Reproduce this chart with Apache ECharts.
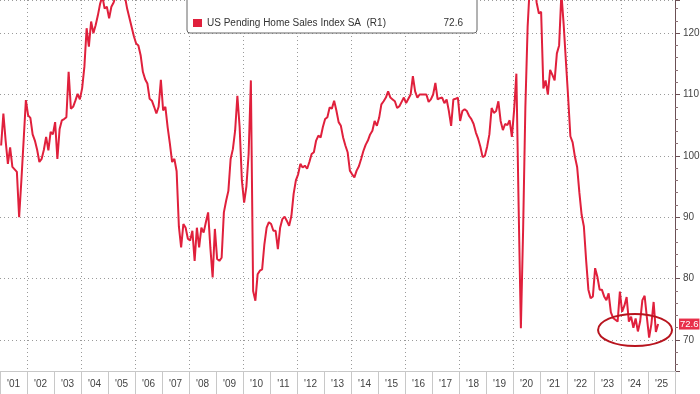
<!DOCTYPE html>
<html><head><meta charset="utf-8">
<script src="https://cdn.jsdelivr.net/npm/echarts@6/dist/echarts.min.js"></script>
<style>html,body{margin:0;padding:0;background:#fff}#c{width:700px;height:394px}</style>
</head><body><div id="c"></div>
<script>
// Year tick labels on the bottom axis
const yearLabels = ["'01","'02","'03","'04","'05","'06","'07","'08","'09","'10","'11","'12","'13","'14","'15","'16","'17","'18","'19","'20","'21","'22","'23","'24","'25"];
const firstYear = 2001;
const lastYear = 2026;

// US Pending Home Sales Index SA, monthly values by year
const v2001 = [101.7, 106.9, 102.5, 98.7, 101.4, 98.2, 97.8, 97.4, 90.0, 96.0, 102.5, 109.1];
const v2002 = [106.6, 106.2, 103.5, 102.5, 101.0, 99.0, 99.5, 101.0, 103.1, 100.9, 103.9, 103.5];
const v2003 = [105.5, 99.5, 104.4, 105.8, 106.0, 106.3, 113.7, 107.7, 108.0, 109.0, 110.1, 109.2];
const v2004 = [111.0, 114.5, 120.8, 117.8, 121.9, 120.0, 121.3, 122.9, 124.8, 126.0, 124.0, 124.3];
const v2005 = [122.4, 124.3, 125.0, 126.2, 126.8, 127.0, 126.5, 126.0, 124.0, 122.5, 121.0, 119.5];
const v2006 = [118.3, 118.0, 116.4, 113.7, 112.5, 111.8, 109.3, 109.0, 108.0, 106.9, 108.0, 112.4];
const v2007 = [107.4, 108.0, 104.7, 102.0, 99.0, 99.5, 97.5, 88.5, 85.1, 88.9, 88.3, 86.5];
const v2008 = [86.2, 87.8, 82.9, 88.3, 85.1, 88.3, 87.5, 89.2, 90.8, 85.0, 80.2, 88.1];
const v2009 = [83.2, 82.9, 83.4, 90.8, 92.7, 94.3, 99.5, 101.1, 104.1, 109.8, 104.7, 96.0];
const v2010 = [92.4, 95.0, 100.3, 112.3, 78.0, 76.4, 80.7, 81.3, 81.5, 85.6, 88.3, 89.2];
const v2011 = [88.9, 87.8, 87.8, 84.8, 88.3, 89.7, 90.1, 89.4, 88.6, 90.2, 93.8, 96.0];
const v2012 = [97.0, 98.7, 98.1, 98.4, 97.9, 99.0, 100.3, 100.6, 102.5, 103.3, 103.0, 104.7];
const v2013 = [106.0, 106.3, 107.9, 107.7, 109.0, 107.4, 105.5, 104.9, 103.0, 101.7, 100.6, 97.6];
const v2014 = [97.0, 96.5, 97.6, 98.3, 99.5, 100.8, 101.8, 102.5, 103.5, 104.1, 105.7, 104.9];
const v2015 = [106.2, 108.4, 108.9, 109.5, 110.5, 109.5, 109.2, 108.9, 107.8, 108.1, 108.8, 109.5];
const v2016 = [108.6, 109.3, 110.0, 113.0, 110.5, 109.5, 110.0, 110.0, 110.0, 110.0, 108.8, 109.2];
const v2017 = [110.0, 111.9, 109.2, 109.4, 109.5, 108.6, 109.2, 107.3, 104.9, 109.2, 109.3, 109.5];
const v2018 = [105.7, 107.3, 107.6, 107.3, 106.5, 106.0, 105.2, 103.8, 102.8, 101.5, 99.8, 100.0];
const v2019 = [101.5, 103.5, 107.8, 107.0, 107.3, 108.9, 105.7, 104.2, 105.2, 105.0, 105.8, 103.1];
const v2020 = [107.5, 113.4, 91.7, 71.9, 88.0, 108.0, 121.0, 128.0, 131.0, 129.0, 125.0, 123.2];
const v2021 = [123.5, 111.0, 112.3, 110.0, 114.0, 113.2, 112.3, 116.7, 118.0, 126.5, 121.5, 115.5];
const v2022 = [109.6, 103.2, 102.2, 99.9, 98.2, 94.0, 90.4, 88.5, 83.0, 78.2, 76.8, 77.1];
const v2023 = [81.7, 80.3, 78.2, 78.2, 77.1, 76.5, 77.6, 74.5, 73.6, 73.3, 73.0, 77.9];
const v2024 = [74.6, 75.6, 77.0, 73.0, 73.8, 72.0, 73.5, 71.4, 73.0, 76.5, 77.2, 73.7];
const v2025 = [70.4, 72.6, 76.2, 71.3, 72.6];

const seriesName = 'US Pending Home Sales Index SA  (R1)';
const lastValue = 72.6;

// Right axis range
const yMin = 64.95;
const yMax = 125.4;
const yStep = 10;

const values = [].concat(v2001, v2002, v2003, v2004, v2005, v2006, v2007, v2008, v2009, v2010,
  v2011, v2012, v2013, v2014, v2015, v2016, v2017, v2018, v2019, v2020, v2021, v2022, v2023, v2024, v2025);
const seriesData = values.map((v, i) => [firstYear + (i + 0.5) / 12, v]);

const FONT = '"Liberation Sans", Arial, sans-serif';
const chart = echarts.init(document.getElementById('c'), null, {renderer: 'canvas'});
chart.setOption({
  backgroundColor: '#fff',
  animation: false,
  textStyle: {fontFamily: FONT},
  grid: {left: 0, right: 25, top: 0, bottom: 23, containLabel: false, outerBoundsMode: 'none'},
  legend: {
    show: true, left: 187, top: -10,
    data: [{name: seriesName, icon: 'rect'}],
    itemWidth: 9, itemHeight: 8, itemGap: 0,
    backgroundColor: '#fff', borderColor: '#666', borderWidth: 1, borderRadius: 3,
    padding: [28, 14, 5, 6],
    selectedMode: false,
    formatter: (name) => '{n|' + name + '}{v|' + lastValue + '}',
    textStyle: {
      rich: {
        n: {width: 200, fontSize: 10, color: '#333', fontFamily: FONT},
        v: {width: 56, align: 'right', fontSize: 10, color: '#333', fontFamily: FONT}
      }
    }
  },
  xAxis: [
    {type: 'value', min: firstYear, max: lastYear, show: false},
    {
      type: 'category', data: yearLabels, position: 'bottom', boundaryGap: true,
      axisLine: {show: true, lineStyle: {color: '#c8c8c8', width: 1}},
      axisTick: {show: true, interval: 0, length: 23, lineStyle: {color: '#c8c8c8'}},
      axisLabel: {interval: 0, fontSize: 10, color: '#444', margin: 8, fontFamily: FONT},
      splitLine: {show: true, interval: (i) => i % 2 === 1, lineStyle: {type: [1, 3], color: '#9a9a9a', width: 1}}
    }
  ],
  yAxis: {
    type: 'value', position: 'right', min: yMin, max: yMax, minInterval: yStep, maxInterval: yStep,
    axisLine: {show: true, lineStyle: {color: '#6b5055', width: 1}},
    axisTick: {show: true, length: 5, lineStyle: {color: '#6b5055'}},
    minorTick: {show: true, splitNumber: 5, length: 3, lineStyle: {color: '#8a7075'}},
    axisLabel: {
      showMinLabel: false, showMaxLabel: false, fontSize: 10, color: '#444', margin: 8, fontFamily: FONT,
      formatter: (v) => (Math.abs(v % yStep) < 1e-6 ? String(v) : '')
    },
    splitLine: {show: true, lineStyle: {type: [1, 3], color: '#9a9a9a', width: 1}}
  },
  series: [{
    name: seriesName, type: 'line', xAxisIndex: 0, yAxisIndex: 0,
    data: seriesData, showSymbol: false, symbol: 'none',
    lineStyle: {width: 2, color: '#e0203c'}, itemStyle: {color: '#e0203c'},
    markLine: {
      silent: true, symbol: 'none', animation: false,
      lineStyle: {color: 'rgba(0,0,0,0)', width: 0},
      data: [{yAxis: lastValue}],
      label: {
        show: true, position: 'end', distance: 4, formatter: String(lastValue),
        backgroundColor: '#e8304a', color: '#fff', fontSize: 9.5, padding: [1, 1, 0, 1], fontFamily: FONT
      }
    },
    z: 3
  }]
});

// Annotation ellipse around the recent lows
const c = chart.convertToPixel({xAxisIndex: 0, yAxisIndex: 0}, [2024.52, 71.63]);
chart.setOption({
  graphic: [{
    type: 'ellipse', z: 10,
    shape: {cx: c[0], cy: c[1], rx: 37, ry: 16},
    style: {fill: 'none', stroke: '#b8141e', lineWidth: 2}
  }]
});
</script>
</body></html>
